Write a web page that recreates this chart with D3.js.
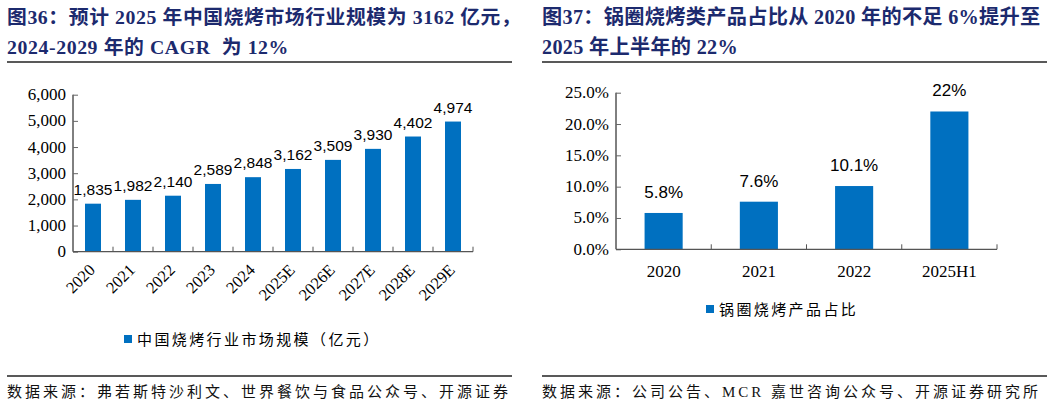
<!DOCTYPE html>
<html>
<head>
<meta charset="utf-8">
<script src="https://cdn.jsdelivr.net/npm/d3@7"></script>
<style>
  body { margin: 0; background: #fff; }
  svg { display: block; }
</style>
</head>
<body>
<div id="chart"></div>
<script>
// left chart data
const years = ['2020', '2021', '2022', '2023', '2024', '2025E', '2026E', '2027E', '2028E', '2029E']
const marketSize = [1835, 1982, 2140, 2589, 2848, 3162, 3509, 3930, 4402, 4974]
const leftTicks = [0, 1000, 2000, 3000, 4000, 5000, 6000]

// right chart data
const periods = ['2020', '2021', '2022', '2025H1']
const bbqShare = [0.058, 0.076, 0.101, 0.22]
const shareLabels = ['5.8%', '7.6%', '10.1%', '22%']
const rightTicks = [0, 0.05, 0.1, 0.15, 0.2, 0.25]

const blue = '#0070c0'
const navy = '#1c2a6e'
const serif = '"Liberation Serif", "Times New Roman", serif'
const cjk = '"Liberation Serif", "Noto Sans CJK SC", serif'
const sans = '"Liberation Sans", Arial, sans-serif'

const svg = d3
  .select('#chart')
  .append('svg')
  .attr('width', 1057)
  .attr('height', 407)

// titles, rules and footers for both panels
function frame(x0, x1, lines, titleSize, spacing, source) {
  lines.forEach((t, i) => {
    svg
      .append('text')
      .attr('x', x0)
      .attr('y', 24 + i * 30)
      .attr('fill', navy)
      .attr('font-family', cjk)
      .attr('font-weight', 'bold')
      .attr('font-size', titleSize)
      .attr('letter-spacing', spacing)
      .style('white-space', 'pre')
      .text(t)
  })
  svg.append('line')
    .attr('x1', x0).attr('x2', x1)
    .attr('y1', 62).attr('y2', 62)
    .attr('stroke', '#222').attr('stroke-width', 1.3)
  svg.append('line')
    .attr('x1', x0).attr('x2', x1)
    .attr('y1', 376).attr('y2', 376)
    .attr('stroke', '#222').attr('stroke-width', 1.3)
  svg
    .append('text')
    .attr('x', x0)
    .attr('y', 397)
    .attr('fill', '#111')
    .attr('font-family', cjk)
    .attr('font-size', 15)
    .attr('letter-spacing', 3)
    .text(source)
}

frame(7, 512,
  ['图36：预计 2025 年中国烧烤市场行业规模为 3162 亿元，', '2024-2029 年的 CAGR  为 12%'],
  19.8, 0.6,
  '数据来源：弗若斯特沙利文、世界餐饮与食品公众号、开源证券')
frame(542, 1047,
  ['图37：锅圈烧烤类产品占比从 2020 年的不足 6%提升至', '2025 年上半年的 22%'],
  20.2, 0.3,
  '数据来源：公司公告、MCR 嘉世咨询公众号、开源证券研究所')

function barChart(opt) {
  const x = d3.scaleBand()
    .domain(opt.cats)
    .range(opt.xRange)
    .paddingInner(0.6)
    .paddingOuter(0.3)
  const y = d3.scaleLinear()
    .domain(opt.yDomain)
    .range(opt.yRange)

  const g = svg.append('g')

  // bars
  g.selectAll('.bar')
    .data(opt.values)
    .enter()
    .append('rect')
    .attr('class', 'bar')
    .attr('x', (d, i) => x(opt.cats[i]))
    .attr('width', x.bandwidth())
    .attr('y', d => y(d))
    .attr('height', d => y(0) - y(d))
    .attr('fill', blue)

  // value labels
  g.selectAll('.val')
    .data(opt.values)
    .enter()
    .append('text')
    .attr('x', (d, i) => x(opt.cats[i]) + x.bandwidth() / 2)
    .attr('y', d => y(d) - opt.labelGap)
    .attr('text-anchor', 'middle')
    .attr('font-family', sans)
    .attr('font-size', opt.labelSize)
    .attr('fill', '#000')
    .text((d, i) => opt.labels[i])

  // y axis, ticks inside
  const yAxis = d3.axisRight(y)
    .tickValues(opt.yTicks)
    .tickSize(5)
    .tickFormat('')
  const ya = g.append('g')
    .attr('transform', 'translate(' + opt.xRange[0] + ',0)')
    .call(yAxis)
  ya.select('.domain').attr('stroke', '#000').attr('d', 'M0,' + opt.yRange[1] + 'V' + opt.yRange[0])
  ya.selectAll('.tick line').attr('stroke', '#666')

  g.selectAll('.ylab')
    .data(opt.yTicks)
    .enter()
    .append('text')
    .attr('x', opt.xRange[0] - 7)
    .attr('y', d => y(d) + 5.5)
    .attr('text-anchor', 'end')
    .attr('font-family', serif)
    .attr('font-size', 17)
    .attr('fill', '#000')
    .text(opt.yFormat)

  // x axis line and inside ticks at band boundaries
  g.append('line')
    .attr('x1', opt.xRange[0]).attr('x2', opt.xRange[1])
    .attr('y1', y(0)).attr('y2', y(0))
    .attr('stroke', '#555').attr('stroke-width', 1.2)
  const bounds = opt.cats.map(c => x(c) - x.step() * x.paddingInner() / 2).slice(1)
  bounds.push(opt.xRange[1])
  g.selectAll('.xtick')
    .data(bounds)
    .enter()
    .append('line')
    .attr('x1', d => d).attr('x2', d => d)
    .attr('y1', y(0)).attr('y2', y(0) - 5)
    .attr('stroke', '#555')

  return { x, y, g }
}

// left panel
const left = barChart({
  cats: years,
  values: marketSize,
  labels: marketSize.map(d3.format(',')),
  xRange: [73, 473],
  yDomain: [0, 6000],
  yRange: [251.7, 94.7],
  yTicks: leftTicks,
  yFormat: d3.format(','),
  labelGap: 9,
  labelSize: 15.5
})

left.g.selectAll('.xlab')
  .data(years)
  .enter()
  .append('text')
  .attr('transform', d => 'translate(' + (left.x(d) + left.x.bandwidth() / 2 + 3) + ',' + 271 + ') rotate(-45)')
  .attr('text-anchor', 'end')
  .attr('font-family', serif)
  .attr('font-size', 16.5)
  .attr('fill', '#000')
  .text(d => d)

// right panel
const right = barChart({
  cats: periods,
  values: bbqShare,
  labels: shareLabels,
  xRange: [616, 997],
  yDomain: [0, 0.25],
  yRange: [249.3, 92.7],
  yTicks: rightTicks,
  yFormat: d3.format('.1%'),
  labelGap: 15,
  labelSize: 17
})

right.g.selectAll('.xlab')
  .data(periods)
  .enter()
  .append('text')
  .attr('x', d => right.x(d) + right.x.bandwidth() / 2)
  .attr('y', 277)
  .attr('text-anchor', 'middle')
  .attr('font-family', serif)
  .attr('font-size', 17)
  .attr('fill', '#000')
  .text(d => d)

// legends
function legend(x, y, label) {
  svg.append('rect')
    .attr('x', x).attr('y', y - 4)
    .attr('width', 8).attr('height', 8)
    .attr('fill', blue)
  svg.append('text')
    .attr('x', x + 13)
    .attr('y', y + 5.5)
    .attr('font-family', cjk)
    .attr('font-size', 15)
    .attr('letter-spacing', 2.4)
    .attr('fill', '#000')
    .text(label)
}
legend(124, 339, '中国烧烤行业市场规模（亿元）')
legend(706, 309, '锅圈烧烤产品占比')
</script>
</body>
</html>
